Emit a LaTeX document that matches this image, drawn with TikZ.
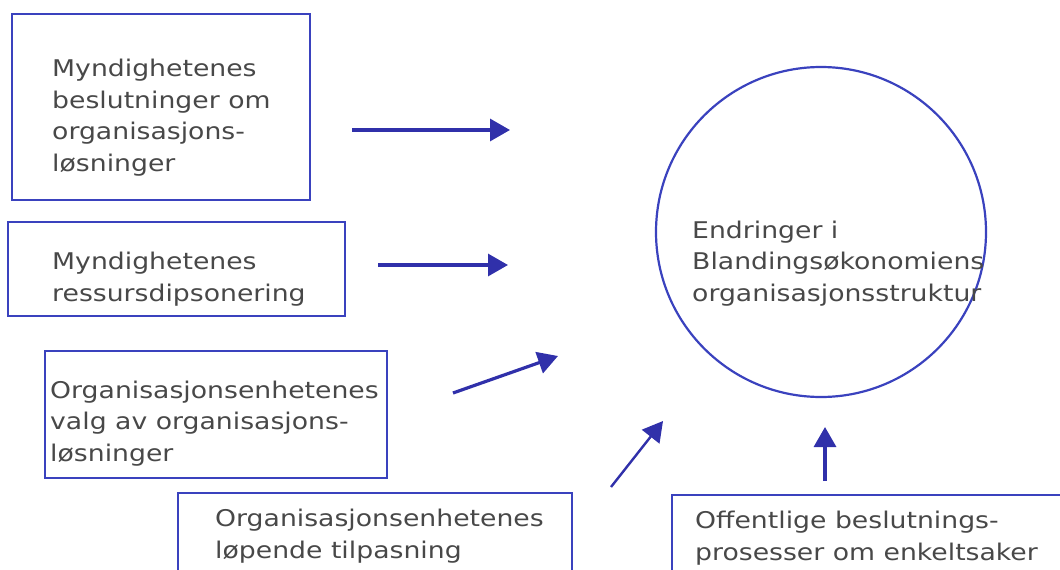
\documentclass[tikz,border=0pt]{standalone}
\usepackage{fontspec}
\setmainfont{DejaVu Sans}[FakeStretch=1.16]
\usetikzlibrary{arrows.meta}
\definecolor{penblue}{RGB}{58,66,190}
\definecolor{arrblue}{RGB}{48,48,170}
\definecolor{txtgray}{RGB}{72,72,72}
\tikzset{
  boxline/.style={draw=penblue, line width=2.8pt},
  label/.style={anchor=base west, inner sep=0pt, align=left, text=txtgray,
    font=\fontsize{23}{31.5}\selectfont},
  flow/.style={draw=arrblue, line width=3.2pt,
    -{Triangle[length=20pt,width=22pt]}},
}
\begin{document}
\begin{tikzpicture}[x=1pt,y=-1pt]
\useasboundingbox (0,0) rectangle (1060,570);
% boxes
\draw[boxline] (12,14) rectangle (310,200);
\draw[boxline] (8,222) rectangle (345,316);
\draw[boxline] (45,351) rectangle (387,478);
\draw[boxline] (178,493) rectangle (572,590);
\draw[boxline] (672,495) rectangle (1080,590);
% texts (base = last line's baseline)
\node[label] (t1) at (52,171) {Myndighetenes\\beslutninger om\\organisasjons-\\løsninger};
\node[label] (t2) at (52,301) {Myndighetenes\\ressursdipsonering};
\node[label] (t3) at (50,461) {Organisasjonsenhetenes\\valg av organisasjons-\\løsninger};
\node[label] (t4) at (215,558) {Organisasjonsenhetenes\\løpende tilpasning};
\node[label] (t5) at (695,560) {Offentlige beslutnings-\\prosesser om enkeltsaker};
% circle
\node[draw=penblue, line width=2.2pt, circle, minimum size=330pt, inner sep=0pt] (c) at (821,232) {};
\node[label] (tc) at (692,301) {Endringer i\\Blandingsøkonomiens\\organisasjonsstruktur};
% arrows
\coordinate (a1s) at (352,130); \coordinate (a1e) at (510,130);
\coordinate (a2s) at (378,265); \coordinate (a2e) at (508,265);
\coordinate (a3s) at (453,393); \coordinate (a3e) at (558,356);
\coordinate (a4s) at (611,487); \coordinate (a4e) at (663,421);
\coordinate (a5s) at (825,481); \coordinate (a5e) at (825,427);
\draw[flow] (a1s) -- (a1e);
\draw[flow] (a2s) -- (a2e);
\draw[flow] (a3s) -- (a3e);
\draw[flow, line width=2.4pt] (a4s) -- (a4e);
\draw[flow] (a5s) -- (a5e);
\end{tikzpicture}
\end{document}
